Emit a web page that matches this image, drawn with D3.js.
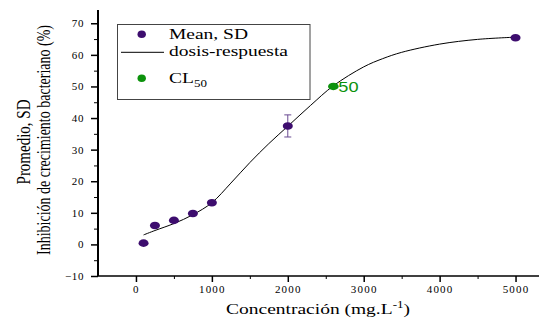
<!DOCTYPE html>
<html>
<head>
<meta charset="utf-8">
<script src="https://cdn.jsdelivr.net/npm/d3@7"></script>
<style>
  body { margin: 0; background: #fff; }
  .tick text { font-family: "Liberation Serif", serif; fill: #000; }
</style>
</head>
<body>
<div id="chart"></div>
<script>
// measured points (mean, SD)
const conc = [100, 250, 500, 750, 1000, 2000, 5000];
const inhib = [0.4, 6.0, 7.6, 9.8, 13.2, 37.5, 65.4];
const sd = [0, 0, 0, 0, 0, 3.5, 0];

// dose-response curve
const fitX = [100, 250, 500, 750, 1000, 1250, 1500, 1750, 2000, 2300, 2600, 3000, 3250, 3500, 4000, 4500, 5000];
const fitY = [3.0, 4.4, 6.6, 9.4, 13.2, 19.4, 25.9, 31.9, 37.4, 44.0, 50.2, 56.2, 58.8, 60.8, 63.4, 64.9, 65.6];

// CL50
const cl50 = [2600, 50];

const xTicks = [0, 1000, 2000, 3000, 4000, 5000];
const yTicks = [-10, 0, 10, 20, 30, 40, 50, 60, 70];

const W = 539, H = 320;
const purple = "#3d0d6e", green = "#0c920c";
const sx = 1.3; // horizontal stretch of the original picture

const svg = d3.select("#chart").append("svg")
  .attr("width", W).attr("height", H);

const x = d3.scaleLinear().domain([-500, 5500]).range([98, 553.5]);
const y = d3.scaleLinear().domain([-10, 74.2]).range([276, 10]);

// minor ticks
svg.append("g")
  .attr("transform", "translate(0,276)")
  .call(d3.axisBottom(x).tickValues(d3.range(500, 5500, 1000)).tickSize(3).tickFormat(""))
  .call(g => g.select(".domain").remove());
svg.append("g")
  .attr("transform", "translate(98,0)")
  .call(d3.axisLeft(y).tickValues(d3.range(-5, 70, 10)).tickSize(4).tickFormat(""))
  .call(g => g.select(".domain").remove());

// major ticks
const xa = svg.append("g")
  .attr("transform", "translate(0,276)")
  .call(d3.axisBottom(x).tickValues(xTicks).tickFormat(d3.format("d"))
    .tickSize(6).tickPadding(3).tickSizeOuter(0));
xa.select(".domain").attr("d", "M98,0H539").attr("stroke-width", 1.5);
xa.selectAll(".tick line").attr("stroke-width", 1.5);
xa.selectAll(".tick text").attr("font-size", 11).attr("letter-spacing", 1.2);

const ya = svg.append("g")
  .attr("transform", "translate(98,0)")
  .call(d3.axisLeft(y).tickValues(yTicks).tickSize(7).tickPadding(7).tickSizeOuter(0));
ya.select(".domain").attr("d", "M0,276V10").attr("stroke-width", 2);
ya.selectAll(".tick line").attr("stroke-width", 1.5);
ya.selectAll(".tick text").attr("font-size", 11).attr("letter-spacing", 0.6);

svg.selectAll(".tick line").attr("stroke", "#000");

// helper for stretched horizontal text
function label(px, py, size, family) {
  return svg.append("text")
    .attr("transform", `translate(${px},${py}) scale(${sx},1)`)
    .attr("font-family", family || "Liberation Serif, serif")
    .attr("font-size", size);
}

// axis titles
const xt = label(318, 314, 15).attr("text-anchor", "middle");
xt.append("tspan").text("Concentración (mg.L");
xt.append("tspan").attr("font-size", 10).attr("dy", -6).text("-1");
xt.append("tspan").attr("dy", 6).text(")");

svg.append("text")
  .attr("transform", `translate(30,142) scale(${sx},1) rotate(-90)`)
  .attr("text-anchor", "middle")
  .attr("font-family", "Liberation Serif, serif")
  .attr("font-size", 15)
  .text("Promedio, SD");
svg.append("text")
  .attr("transform", `translate(50,140) scale(${sx},1) rotate(-90)`)
  .attr("text-anchor", "middle")
  .attr("font-family", "Liberation Serif, serif")
  .attr("font-size", 14)
  .text("Inhibición de crecimiento bacteriano (%)");

// fitted curve
const pts = fitX.map((d, i) => [d, fitY[i]]);
svg.append("path")
  .datum(pts)
  .attr("fill", "none")
  .attr("stroke", "#000")
  .attr("stroke-width", 1)
  .attr("d", d3.line().x(d => x(d[0])).y(d => y(d[1])).curve(d3.curveCatmullRom.alpha(0.5)));

// error bars
const data = conc.map((d, i) => ({ c: d, m: inhib[i], s: sd[i] }));
const eb = svg.selectAll(".eb").data(data.filter(d => d.s > 0)).enter().append("g")
  .attr("stroke", "#6a4a92").attr("stroke-width", 1);
eb.append("line")
  .attr("x1", d => x(d.c)).attr("x2", d => x(d.c))
  .attr("y1", d => y(d.m - d.s)).attr("y2", d => y(d.m + d.s));
eb.append("line")
  .attr("x1", d => x(d.c) - 3.5).attr("x2", d => x(d.c) + 3.5)
  .attr("y1", d => y(d.m + d.s)).attr("y2", d => y(d.m + d.s));
eb.append("line")
  .attr("x1", d => x(d.c) - 3.5).attr("x2", d => x(d.c) + 3.5)
  .attr("y1", d => y(d.m - d.s)).attr("y2", d => y(d.m - d.s));

// points
svg.selectAll(".pt").data(data).enter().append("ellipse")
  .attr("cx", d => x(d.c)).attr("cy", d => y(d.m))
  .attr("rx", 5).attr("ry", 3.8)
  .attr("fill", purple);

svg.append("ellipse")
  .attr("cx", x(cl50[0])).attr("cy", y(cl50[1]))
  .attr("rx", 5.3).attr("ry", 3.7)
  .attr("fill", green);
label(x(cl50[0]) + 5, y(cl50[1]) + 5.5, 14, "Liberation Sans, sans-serif")
  .attr("fill", green).text("50");

// legend
svg.append("rect")
  .attr("x", 117.5).attr("y", 24.5).attr("width", 192.5).attr("height", 75)
  .attr("fill", "#fff").attr("stroke", "#444").attr("stroke-width", 1);
svg.append("ellipse").attr("cx", 141.7).attr("cy", 34.3).attr("rx", 4.2).attr("ry", 3.8).attr("fill", purple);
label(169, 38.5, 15).text("Mean, SD");
svg.append("line").attr("x1", 121).attr("x2", 164).attr("y1", 52.3).attr("y2", 52.3)
  .attr("stroke", "#000").attr("stroke-width", 1);
label(169, 56, 15).text("dosis-respuesta");
svg.append("ellipse").attr("cx", 141.7).attr("cy", 78.3).attr("rx", 4.2).attr("ry", 3.8).attr("fill", green);
const cl = label(169, 83, 15);
cl.append("tspan").text("CL");
cl.append("tspan").attr("font-size", 10).attr("dy", 4).text("50");
</script>
</body>
</html>
